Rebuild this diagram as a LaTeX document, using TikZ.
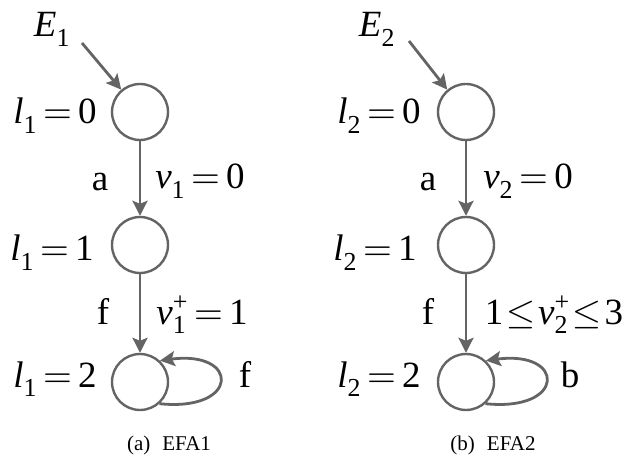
\documentclass[tikz,border=0pt]{standalone}
\usepackage{amsmath}
\usepackage{fontspec}
\usepackage{unicode-math}
\setmainfont{Liberation Serif}
\setmathfont{Latin Modern Math}
\thickmuskip=3mu
\usetikzlibrary{arrows.meta}
\definecolor{edgegray}{RGB}{100,100,100}
\tikzset{
  state/.style={circle, draw=edgegray, line width=2.4pt, minimum size=56pt, inner sep=0pt},
  trans/.style={draw=edgegray, line width=2.8pt, -{Stealth[length=15pt,width=15pt,inset=3pt]}},
  lab/.style={anchor=base, inner sep=0pt, font=\fontsize{37}{44}\selectfont},
  subcap/.style={anchor=base, inner sep=0pt, font=\fontsize{21}{25}\selectfont},
}
\begin{document}
\begin{tikzpicture}[x=1pt,y=-1pt]
    \useasboundingbox (0,0) rectangle (627,457);

    % EFA1
    \node[state] (a0) at (140,112) {};
    \node[state] (a1) at (140,245) {};
    \node[state] (a2) at (140,382) {};
    \coordinate (ain) at (82,43);
    \node[lab] (aname) at (52,37) {$\textit{E}_{\text{1}}$};
    \draw[trans] (ain) -- (a0.130);
    \draw[trans] (a0) -- (a1);
    \draw[trans] (a1) -- (a2);
    \draw[trans] (a2.-48) .. controls (240,412) and (240,350) .. (a2.47);
    \node[lab] (al0) at (55,124) {$\textit{l}_{\text{1}}=\text{0}$};
    \node[lab] (al1) at (52,261) {$\textit{l}_{\text{1}}=\text{1}$};
    \node[lab] (al2) at (55,387) {$\textit{l}_{\text{1}}=\text{2}$};
    \node[lab] (aev0) at (100,191) {a};
    \node[lab] (agd0) at (200,189) {$\textit{v}_{\text{1}}=\text{0}$};
    \node[lab] (aev1) at (103,325) {f};
    \node[lab] (agd1) at (202,324) {$\textit{v}_{\text{1}}^{\text{+}}=\text{1}$};
    \node[lab] (aev2) at (245,387) {f};
    \node[subcap] (acap) at (169,450) {(a)\hspace{12pt}EFA1};

    % EFA2
    \node[state] (b0) at (466,112) {};
    \node[state] (b1) at (466,245) {};
    \node[state] (b2) at (466,382) {};
    \coordinate (bin) at (409,41);
    \node[lab] (bname) at (377,37) {$\textit{E}_{\text{2}}$};
    \draw[trans] (bin) -- (b0.130);
    \draw[trans] (b0) -- (b1);
    \draw[trans] (b1) -- (b2);
    \draw[trans] (b2.-48) .. controls (566,412) and (566,350) .. (b2.47);
    \node[lab] (bl0) at (379,124) {$\textit{l}_{\text{2}}=\text{0}$};
    \node[lab] (bl1) at (375,261) {$\textit{l}_{\text{2}}=\text{1}$};
    \node[lab] (bl2) at (379,387) {$\textit{l}_{\text{2}}=\text{2}$};
    \node[lab] (bev0) at (428,191) {a};
    \node[lab] (bgd0) at (528,189) {$\textit{v}_{\text{2}}=\text{0}$};
    \node[lab] (bev1) at (428,325) {f};
    \node[lab] (bgd1) at (554,324) {\thickmuskip=1.5mu$\text{1}\leq\textit{v}_{\text{2}}^{\text{+}}\leq\text{3}$};
    \node[lab] (bev2) at (570,387) {b};
    \node[subcap] (bcap) at (493,450) {(b)\hspace{12pt}EFA2};
\end{tikzpicture}
\end{document}
